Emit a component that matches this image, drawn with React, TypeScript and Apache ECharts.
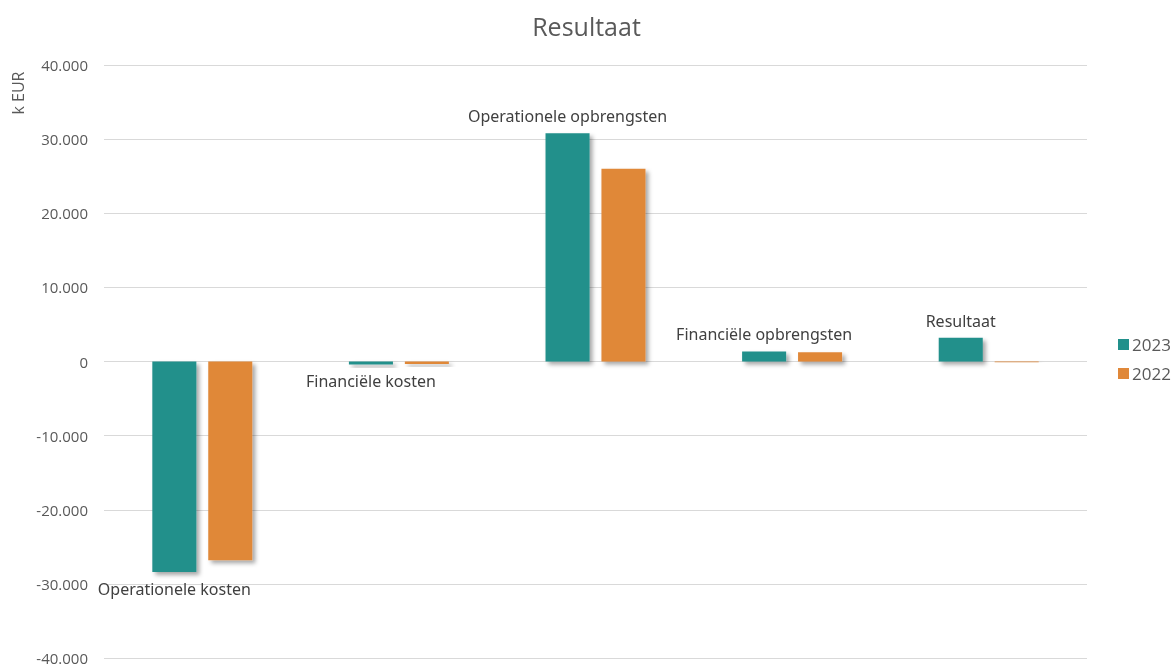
import React, { useEffect, useRef } from "react";
import * as echarts from "echarts";

const categories = [
  "Operationele kosten",
  "Financiële kosten",
  "Operationele opbrengsten",
  "Financiële opbrengsten",
  "Resultaat",
];
const values2023 = [-28400, -400, 30800, 1350, 3200];
const values2022 = [-26800, -350, 26000, 1250, -100];
const seriesNames = ["2023", "2022"];

const fmt = (v: number) => {
  const s = Math.abs(v).toString().replace(/\B(?=(\d{3})+(?!\d))/g, ".");
  return (v < 0 ? "-" : "") + s;
};

export default function App() {
  const ref = useRef<HTMLDivElement>(null);
  useEffect(() => {
    if (!ref.current) return;
    const chart = echarts.init(ref.current, undefined, { renderer: "svg" });
    const shadow = {
      shadowBlur: 4,
      shadowOffsetX: 3,
      shadowOffsetY: 3,
      shadowColor: "rgba(0,0,0,0.35)",
    };
    chart.setOption({
      animation: false,
      title: {
        text: "Resultaat",
        left: "center",
        top: 8,
        textStyle: { fontFamily: "Open Sans", fontSize: 25, fontWeight: "normal", color: "#595959" },
      },
      legend: {
        orient: "vertical",
        left: 1118,
        top: 336,
        padding: 0,
        itemWidth: 11,
        itemHeight: 11,
        itemGap: 12,
        icon: "rect",
        data: seriesNames,
        textStyle: { fontFamily: "Open Sans", fontSize: 17, color: "#595959", padding: [0, 0, 0, -2] },
      },
      graphic: [
        {
          type: "text",
          x: 18,
          y: 93,
          rotation: Math.PI / 2,
          style: {
            text: "k EUR",
            fontFamily: "Open Sans",
            fontSize: 16,
            fill: "#595959",
            textAlign: "center",
            textVerticalAlign: "middle",
          },
        },
      ],
      grid: { left: 104, right: 86, top: 65, bottom: 8, containLabel: false },
      xAxis: {
        type: "category",
        data: categories,
        axisLine: { show: false },
        axisTick: { show: false },
        axisLabel: { show: false },
      },
      yAxis: {
        type: "value",
        min: -40000,
        max: 40000,
        interval: 10000,
        axisLine: { show: false },
        axisTick: { show: false },
        splitLine: { lineStyle: { color: "#d9d9d9", width: 1 } },
        axisLabel: {
          margin: 16,
          fontFamily: "Open Sans",
          fontSize: 15,
          lineHeight: 12,
          color: "#595959",
          formatter: (v: number) => fmt(v),
        },
      },
      series: [
        {
          name: seriesNames[0],
          type: "bar",
          barWidth: "22.4%",
          barGap: "27%",
          itemStyle: { color: "#21908B", ...shadow },
          data: values2023.map((v) => ({
            value: v,
            label: {
              show: true,
              position: v < 0 ? "bottom" : "top",
              distance: 9,
              formatter: (p: any) => p.name,
              fontFamily: "Noto Sans",
              fontSize: 16,
              color: "#404040",
            },
          })),
        },
        {
          name: seriesNames[1],
          type: "bar",
          barWidth: "22.4%",
          itemStyle: { color: "#E08839", ...shadow },
          data: values2022,
        },
      ],
    });
    return () => chart.dispose();
  }, []);
  return (
    <div
      ref={ref}
      style={{ position: "fixed", left: 0, top: 0, width: 1173, height: 666 }}
    />
  );
}
